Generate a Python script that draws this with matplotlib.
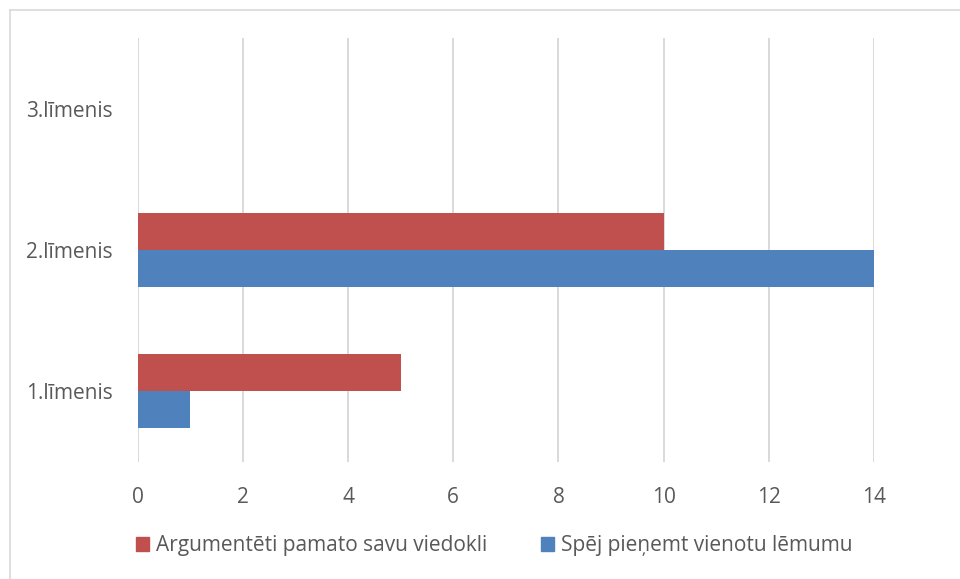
import matplotlib
matplotlib.use("Agg")
import matplotlib.pyplot as plt
from matplotlib.lines import Line2D
from matplotlib.patches import Patch
import numpy as np

categories = ["1.līmenis", "2.līmenis", "3.līmenis"]
argumenteti = [5, 10, 0]
spej = [1, 14, 0]
series_names = ["Argumentēti pamato savu viedokli", "Spēj pieņemt vienotu lēmumu"]

RED = "#C0504D"
BLUE = "#4F81BD"
TEXT = "#595959"
GRID = "#D9D9D9"
FS = 15

plt.rcParams["font.family"] = ["Open Sans", "DejaVu Sans"]

fig = plt.figure(figsize=(9.6, 5.79), dpi=100)
ax = fig.add_axes([137.7 / 960, 1 - 462 / 579, (874 - 137.7) / 960, (462 - 38) / 579])

y = np.arange(len(categories))
h = 0.262
ax.barh(y + h / 2, argumenteti, height=h, color=RED, zorder=3)
ax.barh(y - h / 2, spej, height=h, color=BLUE, zorder=3)

ax.set_xlim(0, 14)
ax.set_ylim(-0.5, 2.5)
ax.set_xticks(range(0, 15, 2))
ax.set_yticks(y)
ax.set_yticklabels(categories)
ax.xaxis.grid(True, color=GRID, linewidth=1.4, zorder=0)
for s in ax.spines.values():
    s.set_visible(False)
ax.tick_params(axis="both", length=0, labelsize=FS, colors=TEXT)
ax.tick_params(axis="x", pad=18)
ax.tick_params(axis="y", pad=18)

handles = [Patch(color=RED), Patch(color=BLUE)]
fig.legend(handles, series_names, loc="center", bbox_to_anchor=(494 / 960, 1 - 546 / 579),
           ncol=2, frameon=False, fontsize=FS, labelcolor=TEXT,
           handlelength=0.65, handleheight=0.65, handletextpad=0.3, columnspacing=2.6)

# outer chart frame (only left and top visible in the crop)
fig.add_artist(Line2D([9.5 / 960, 9.5 / 960], [0, 1 - 9.5 / 579], color=GRID, linewidth=1.2))
fig.add_artist(Line2D([9.5 / 960, 1], [1 - 9.5 / 579, 1 - 9.5 / 579], color=GRID, linewidth=1.2))

fig.savefig("out.png", dpi=100)
